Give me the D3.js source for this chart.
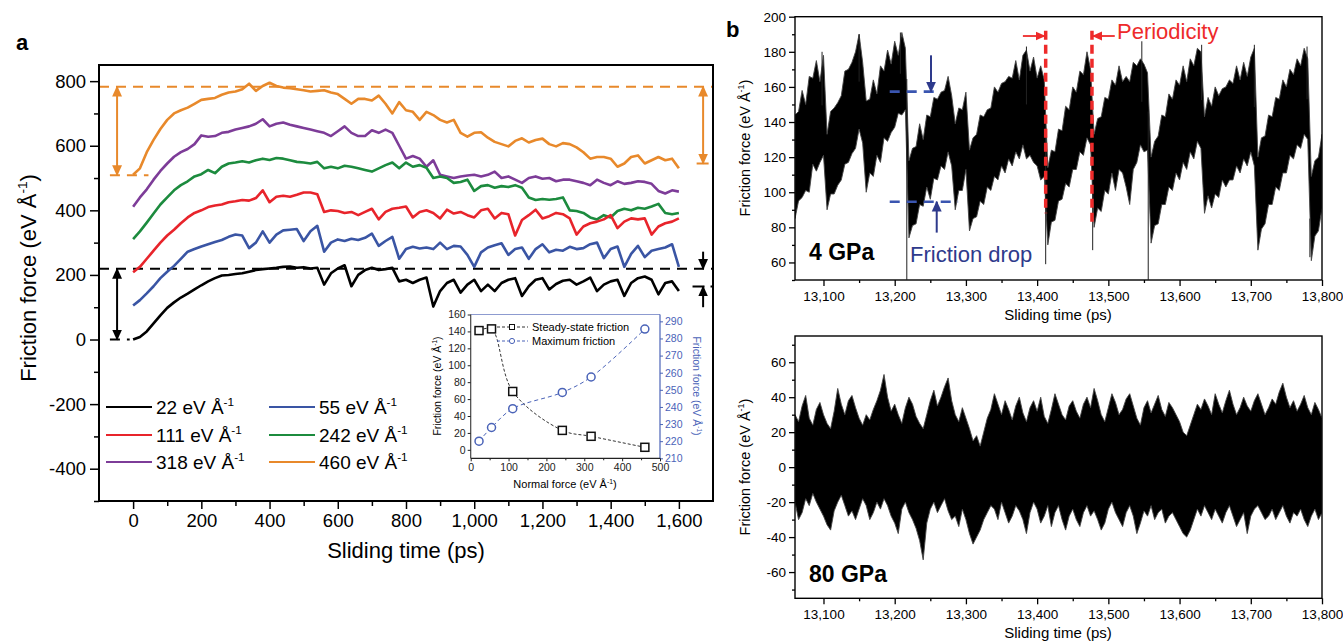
<!DOCTYPE html>
<html><head><meta charset="utf-8">
<script src="https://cdn.jsdelivr.net/npm/d3@7"></script>
<style>body{margin:0;background:#fff}</style>
</head><body>
<script>
// ---------------- DATA ----------------
// Panel a: friction force vs sliding time, sampled every 20 ps from 0 to 1600 ps
const tStepA = 20;
const loadLabels = ["22", "55", "111", "242", "318", "460"];
const f22 = [0,8,25,50,75, 98,115,130,142,155, 168,180,190,198,200, 203,205,210,215,218, 220,222,225,226,222, 224,220,222,170,205, 220,230,165,200,
  215,222,215,218,222, 180,185,175,185,192, 102,150,175,185,145, 170,185,150,170,150, 175,185,190,135,165, 185,190,155,172,182, 185,170,180,192,150, 170,180,185,135,175, 190,195,185,140,175, 180,150];
const f55 = [105,122,143,165,190, 210,228,250,272,280, 288,295,302,308,318, 325,322,283,300,335, 300,325,338,340,342, 305,335,352,272,300, 310,305,312,308,
  315,328,290,305,318, 250,280,287,282,285, 280,300,280,290,288, 262,225,270,285,292, 298,262,280,285,250, 280,295,270,278,275, 287,280,283,295,300, 252,280,288,225,265, 290,255,275,280,285, 295,225];
const f111 = [208,225,250,275,300, 322,340,360,378,392, 400,410,415,418,425, 428,432,430,438,462, 425,442,445,442,448, 455,455,450,395,400, 398,392,395,385,
  395,405,372,395,405, 408,412,378,395,400, 392,375,402,390,395, 385,378,400,405,375, 392,388,322,370,385, 402,375,382,392,388, 375,325,350,360,365, 372,385,345,365,375, 372,375,325,350,360, 365,375];
const f242 = [311,335,362,390,418, 440,462,478,490,505, 512,525,515,535,545, 548,552,548,555,560, 556,562,560,555,550, 548,545,550,530,535, 530,538,535,530,
  525,520,530,540,548, 530,548,535,540,532, 500,505,500,485,488, 495,460,475,478,470, 475,472,478,470,440, 432,435,433,435,440, 400,398,392,378,372, 385,378,398,405,400, 408,405,412,420,392, 388,392];
const f318 = [411,440,465,495,522, 545,566,580,590,605, 632,628,630,640,643, 650,655,660,668,682, 660,668,672,665,660, 655,650,645,640,630, 645,660,640,630,
  630,648,640,650,640, 600,560,568,560,535, 555,510,505,500,505, 508,510,505,510,520, 500,505,495,485,500, 505,498,500,490,495, 495,490,485,478,495, 485,478,490,482,485, 490,488,482,460,452, 462,458];
const f460 = [510,530,580,618,652, 680,700,710,718,730, 742,745,748,758,765, 768,775,792,770,785, 795,785,780,778,775, 772,768,770,772,765, 760,745,730,745,
  745,740,755,730,700, 735,710,705,680,705, 695,680,672,680,640, 628,640,642,625,612, 605,598,615,623,610, 618,622,605,598,608, 605,595,580,560,565, 565,560,535,545,565, 570,545,555,565,555, 560,530];
const seriesA = [f22, f55, f111, f242, f318, f460];
const colorsA = ["#000000", "#3A55A4", "#E8242B", "#1C8B3E", "#7D3C98", "#E8892B"];
const xTicksA = [0,200,400,600,800,1000,1200,1400,1600];
const xMinorA = [100,300,500,700,900,1100,1300,1500];
const yTicksA = [-400,-200,0,200,400,600,800];
const yMinorA = [-500,-300,-100,100,300,500,700];
// reference levels (max / steady) in panel a
const orangeMax = 783, orangeMinL = 509, orangeMinR = 545;
const blackMax = 219, blackMinL = 0, blackMinR = 164;

// Inset: normal force vs friction
const normalForce = [22, 55, 111, 242, 318, 460];
const steadyFriction = [141, 143, 69, 23, 16, 3];
const maxFriction = [220, 228, 239, 248.5, 257.5, 285.5];
const insetXTicks = [0,100,200,300,400,500];
const insetYLTicks = [0,20,40,60,80,100,120,140,160];
const insetYRTicks = [210,220,230,240,250,260,270,280,290];

// Panel b: envelope (upper / lower extremes) every 5 ps from 13060 to 13800 ps
const tStartB = 13060, tStepB = 5;
const hi4 = [144,146,158,150,166,165,175,163,178,133, 146,148,151,155,169,170,174,180,190,174,
  152,153,164,156,172,169,181,173,186,178, 191,182,118,125,126,139,130,144,143,154,
  153,157,158,166,155,139,148,147,157,124, 131,133,144,143,147,148,160,157,162,163,
  166,165,175,164,178,181,169,177,165,172, 164,114,124,123,136,135,149,147,160,157,
  169,167,180,170,133,142,143,154,153,164, 161,172,163,166,163,174,172,176,173,168,
  120,129,132,144,143,156,153,164,161,172, 163,176,172,182,180,143,154,149,160,155,
  159,160,164,162,172,164,174,166,177,182, 120,131,132,144,143,154,153,164,160,170,
  167,176,172,182,176,109,118,120,133];
const lo4 = [85,95,97,101,100,116,112,117,121,90, 99,99,104,107,116,117,122,125,136,128,
  100,111,109,121,117,131,129,134,137,145, 144,147,74,81,82,93,92,103,96,108,
  107,115,113,123,115,90,101,101,113,78, 85,86,95,93,103,101,109,107,115,111,
  119,115,123,119,127,119,121,117,115,107, 109,70,83,84,95,96,105,103,113,113,
  123,121,131,127,80,91,89,101,99,111, 101,113,111,103,93,113,117,127,123,124,
  71,81,82,93,93,103,101,111,107,117, 113,123,119,129,125,88,98,91,99,97,
  107,103,107,107,115,111,119,115,123,115, 67,79,82,93,93,103,101,111,111,121,
  119,127,125,133,130,61,75,78,91];
const spikes4 = [[13098,180],[13150,190],[13208,191],[13217,50],[13385,183],[13412,59],[13478,67],[13547,186],[13556,50],[13631,184],[13705,184],[13779,183],[13783,63]];
const hi80 = [30,26,35,41,28,24,33,37,30,25, 22,32,45,36,30,38,41,34,28,24,
  30,27,33,38,44,53,40,32,36,30, 25,34,40,36,29,25,22,30,38,44,
  35,40,46,51,38,30,26,34,28,22, 15,18,12,20,28,33,42,36,30,38,
  33,27,35,40,31,26,34,38,32,40, 29,25,33,42,36,30,27,35,38,32,
  28,36,40,34,45,38,30,26,34,42, 37,30,33,39,42,35,28,24,34,38,
  31,36,41,33,29,37,34,30,26,20, 18,24,30,36,33,39,35,30,42,36,
  31,38,44,36,30,34,40,35,32,38, 42,36,30,34,39,36,43,48,40,34,
  38,32,36,41,34,30,37,33,28];
const lo80 = [-20,-30,-26,-18,-22,-15,-20,-24,-28,-33, -36,-25,-20,-16,-22,-28,-25,-30,-24,-18,
  -22,-30,-26,-20,-24,-18,-22,-28,-32,-38, -24,-20,-26,-30,-35,-42,-53,-32,-24,-20,
  -26,-22,-18,-25,-30,-28,-34,-24,-30,-38, -44,-40,-36,-30,-26,-22,-24,-30,-20,-26,
  -32,-28,-22,-25,-30,-38,-26,-20,-24,-32, -28,-22,-34,-26,-22,-30,-36,-28,-24,-30,
  -34,-26,-22,-28,-25,-30,-36,-32,-24,-20, -26,-30,-34,-26,-22,-28,-38,-32,-25,-28,
  -22,-30,-26,-24,-32,-28,-26,-30,-34,-38, -40,-36,-30,-24,-28,-22,-26,-30,-24,-28,
  -32,-26,-22,-28,-34,-30,-26,-38,-28,-24, -22,-26,-30,-28,-24,-30,-26,-22,-28,-32,
  -26,-28,-24,-30,-34,-28,-24,-30,-26];
const xTicksB = [13100,13200,13300,13400,13500,13600,13700,13800];
const xMinorB = [13150,13250,13350,13450,13550,13650,13750];
const yTicksB1 = [60,80,100,120,140,160,180,200];
const yMinorB1 = [50,70,90,110,130,150,170,190];
const yTicksB2 = [-60,-40,-20,0,20,40,60];
const yMinorB2 = [-70,-50,-30,-10,10,30,50,70];
// annotation values in panel b
const periodT = [13412, 13477], periodTop = 192, periodBottom = [88, 82];
const dropHigh = 157.3, dropLow = 94.6;

// ---------------- DRAW ----------------
const FONT = '"Liberation Sans", Arial, Helvetica, sans-serif';
const fmt = d => String(d);
const svg = d3.select("body").append("svg").attr("width", 1343).attr("height", 642)
  .style("font-family", FONT).style("background", "#fff");
const defs = svg.append("defs");
function marker(id, color, size) {
  defs.append("marker").attr("id", id).attr("viewBox", "0 0 10 10")
    .attr("refX", 9).attr("refY", 5).attr("markerWidth", size).attr("markerHeight", size)
    .attr("markerUnits", "userSpaceOnUse").attr("orient", "auto-start-reverse")
    .append("path").attr("d", "M0,0.5 L10,5 L0,9.5 Z").attr("fill", color);
}
marker("mO", "#E8892B", 11); marker("mK", "#000", 11); marker("mR", "#EE2A2A", 10); marker("mN", "#2E3A8C", 11);

function rich(g, x, y, parts, size, opts = {}) {
  const t = g.append("text").attr("font-size", size).attr("fill", opts.fill || "#000")
    .attr("text-anchor", opts.anchor || "start").attr("font-weight", opts.weight || "normal");
  if (opts.rotate !== undefined) t.attr("transform", `translate(${x},${y}) rotate(${opts.rotate})`);
  else t.attr("x", x).attr("y", y);
  let shift = 0;
  parts.forEach(p => {
    const isSup = Array.isArray(p);
    const s = isSup ? p[0] : p;
    const ts = t.append("tspan").text(s);
    if (isSup) { ts.attr("font-size", size * 0.62).attr("dy", -size * 0.4); shift = size * 0.4; }
    else if (shift) { ts.attr("dy", shift); shift = 0; }
  });
  return t;
}
const unitParts = (pre) => [pre + " (eV Å", ["-1"], ")"];

function styleAxis(g, size, color = "#000", width = 1.5) {
  g.select(".domain").remove();
  g.selectAll(".tick line").attr("stroke", color).attr("stroke-width", width);
  g.selectAll(".tick text").attr("font-size", size).attr("fill", color).attr("font-family", FONT);
}

// ===== Panel a =====
const xA = d3.scaleLinear().domain([-100, 1700]).range([99, 713]);
const yA = d3.scaleLinear().domain([-500, 850]).range([501, 65]);
const gA = svg.append("g");
gA.append("text").attr("x", 16).attr("y", 50).attr("font-size", 22).attr("font-weight", "bold").text("a");

gA.append("g").attr("transform", "translate(99,0)")
  .call(d3.axisLeft(yA).tickValues(yTicksA).tickSize(9).tickPadding(4).tickFormat(fmt)).call(g => styleAxis(g, 18.5));
gA.append("g").attr("transform", "translate(99,0)")
  .call(d3.axisLeft(yA).tickValues(yMinorA).tickSize(5).tickFormat("")).call(g => styleAxis(g, 18.5));
gA.append("g").attr("transform", "translate(0,501)")
  .call(d3.axisBottom(xA).tickValues(xTicksA).tickSize(8).tickPadding(5).tickFormat(d3.format(","))).call(g => styleAxis(g, 18.5));
gA.append("g").attr("transform", "translate(0,501)")
  .call(d3.axisBottom(xA).tickValues(xMinorA).tickSize(5).tickFormat("")).call(g => styleAxis(g, 18.5));

// reference lines
const dashA = "10,7";
function hline(g, x1, x2, y, color, dash) {
  g.append("line").attr("x1", x1).attr("x2", x2).attr("y1", y).attr("y2", y)
    .attr("stroke", color).attr("stroke-width", 2).attr("stroke-dasharray", dash);
}
hline(gA, xA(-100), xA(1700), yA(orangeMax), "#E8892B", dashA);
hline(gA, xA(-100), xA(1700), yA(blackMax), "#000", dashA);
hline(gA, xA(-68), xA(45), yA(orangeMinL), "#E8892B", dashA);
hline(gA, xA(-68), xA(-10), yA(blackMinL), "#000", dashA);
hline(gA, xA(1652), xA(1700), yA(orangeMinR), "#E8892B", "12,6");
hline(gA, xA(1640), xA(1700), yA(blackMinR), "#000", "12,6");
// arrows
function arrow(g, x1, y1, x2, y2, color, m, both, w = 2) {
  const l = g.append("line").attr("x1", x1).attr("y1", y1).attr("x2", x2).attr("y2", y2)
    .attr("stroke", color).attr("stroke-width", w).attr("marker-end", `url(#${m})`);
  if (both) l.attr("marker-start", `url(#${m})`);
}
arrow(gA, xA(-47), yA(orangeMax), xA(-47), yA(orangeMinL), "#E8892B", "mO", true);
arrow(gA, xA(1671), yA(orangeMax), xA(1671), yA(orangeMinR), "#E8892B", "mO", true);
arrow(gA, xA(-47), yA(blackMax), xA(-47), yA(blackMinL), "#000", "mK", true);
arrow(gA, xA(1671), yA(272), xA(1671), yA(blackMax), "#000", "mK", false);
arrow(gA, xA(1671), yA(100), xA(1671), yA(blackMinR), "#000", "mK", false);

// curves
const lineA = d3.line().x((d, i) => xA(i * tStepA)).y(d => yA(d));
[5, 4, 3, 2, 1, 0].forEach(k => {
  gA.append("path").datum(seriesA[k]).attr("d", lineA).attr("fill", "none")
    .attr("stroke", colorsA[k]).attr("stroke-width", 2.6).attr("stroke-linejoin", "round");
});
gA.append("rect").attr("x", 99).attr("y", 65).attr("width", 614).attr("height", 436)
  .attr("fill", "none").attr("stroke", "#000").attr("stroke-width", 2);

// legend
const legPos = [[106, 407], [269, 407], [106, 435], [269, 435], [106, 462], [269, 462]];
loadLabels.forEach((lab, k) => {
  const [lx, ly] = legPos[k];
  gA.append("line").attr("x1", lx).attr("x2", lx + 46).attr("y1", ly).attr("y2", ly)
    .attr("stroke", colorsA[k]).attr("stroke-width", 2.2);
  rich(gA, lx + 50, ly + 7, [lab + " eV Å", ["-1"]], 19);
});
// titles
rich(gA, 406, 558, ["Sliding time (ps)"], 22, { anchor: "middle" });
rich(gA, 36, 278, unitParts("Friction force"), 22, { anchor: "middle", rotate: -90 });

// ===== Inset =====
const xI = d3.scaleLinear().domain([0, 500]).range([470.7, 660]);
const yIL = d3.scaleLinear().domain([-10, 160]).range([458.3, 314.5]);
const yIR = d3.scaleLinear().domain([210, 294]).range([458.3, 314.5]);
const gI = svg.append("g");
const blueI = "#4A63B8";
gI.append("line").attr("x1", 470.7).attr("x2", 660).attr("y1", 314.5).attr("y2", 314.5).attr("stroke", "#8D9BD0").attr("stroke-width", 1);
gI.append("line").attr("x1", 470.7).attr("x2", 470.7).attr("y1", 314.5).attr("y2", 458.3).attr("stroke", "#444").attr("stroke-width", 1.2);
gI.append("line").attr("x1", 660).attr("x2", 660).attr("y1", 314.5).attr("y2", 458.3).attr("stroke", blueI).attr("stroke-width", 1.2);
gI.append("line").attr("x1", 470.7).attr("x2", 660).attr("y1", 458.3).attr("y2", 458.3).attr("stroke", "#222").attr("stroke-width", 1.2);
gI.append("g").attr("transform", "translate(470.7,0)")
  .call(d3.axisLeft(yIL).tickValues(insetYLTicks).tickSize(3).tickPadding(2)).call(g => styleAxis(g, 10.5, "#222", 1));
gI.append("g").attr("transform", "translate(660,0)")
  .call(d3.axisRight(yIR).tickValues(insetYRTicks).tickSize(3).tickPadding(2)).call(g => styleAxis(g, 10.5, blueI, 1));
gI.append("g").attr("transform", "translate(0,458.3)")
  .call(d3.axisBottom(xI).tickValues(insetXTicks).tickSize(3).tickPadding(2)).call(g => styleAxis(g, 10.5, "#222", 1));
gI.append("g").attr("transform", "translate(0,458.3)")
  .call(d3.axisBottom(xI).tickValues([50,150,250,350,450]).tickSize(2).tickFormat("")).call(g => styleAxis(g, 10.5, "#222", 1));
const lineIS = d3.line().x((d, i) => xI(normalForce[i])).y(d => yIL(d)).curve(d3.curveCatmullRom);
const lineIM = d3.line().x((d, i) => xI(normalForce[i])).y(d => yIR(d)).curve(d3.curveCatmullRom);
gI.append("path").datum(steadyFriction).attr("d", lineIS).attr("fill", "none").attr("stroke", "#333").attr("stroke-width", 1).attr("stroke-dasharray", "3,2");
gI.append("path").datum(maxFriction).attr("d", lineIM).attr("fill", "none").attr("stroke", blueI).attr("stroke-width", 1).attr("stroke-dasharray", "4,3");
gI.selectAll(".sq").data(steadyFriction).join("rect").attr("x", (d, i) => xI(normalForce[i]) - 4).attr("y", d => yIL(d) - 4)
  .attr("width", 8).attr("height", 8).attr("fill", "#fff").attr("stroke", "#111").attr("stroke-width", 1.5);
gI.selectAll(".ci").data(maxFriction).join("circle").attr("cx", (d, i) => xI(normalForce[i])).attr("cy", d => yIR(d))
  .attr("r", 4).attr("fill", "#fff").attr("stroke", blueI).attr("stroke-width", 1.5);
// inset legend
gI.append("line").attr("x1", 497).attr("x2", 528).attr("y1", 327).attr("y2", 327).attr("stroke", "#333").attr("stroke-dasharray", "3,2");
gI.append("rect").attr("x", 509.5).attr("y", 324.5).attr("width", 5).attr("height", 5).attr("fill", "#fff").attr("stroke", "#111").attr("stroke-width", 1);
gI.append("line").attr("x1", 497).attr("x2", 528).attr("y1", 341).attr("y2", 341).attr("stroke", blueI).attr("stroke-dasharray", "3,2");
gI.append("circle").attr("cx", 512).attr("cy", 341).attr("r", 2.6).attr("fill", "#fff").attr("stroke", blueI).attr("stroke-width", 1);
rich(gI, 532, 331, ["Steady-state friction"], 11);
rich(gI, 532, 345, ["Maximum friction"], 11);
rich(gI, 565, 488, unitParts("Normal force"), 11, { anchor: "middle" });
rich(gI, 441, 386, unitParts("Friction force"), 10.5, { anchor: "middle", rotate: -90 });
rich(gI, 693, 386, unitParts("Friction force"), 10.5, { anchor: "middle", rotate: 90, fill: blueI });

// ===== Panel b =====
const xB = d3.scaleLinear().domain([13060, 13800]).range([795, 1322]);
const yB1 = d3.scaleLinear().domain([50, 200]).range([280, 16.7]);
const yB2 = d3.scaleLinear().domain([-75, 75]).range([598.3, 336]);
const gB = svg.append("g");
gB.append("text").attr("x", 726).attr("y", 37).attr("font-size", 22).attr("font-weight", "bold").text("b");
defs.append("clipPath").attr("id", "cb1").append("rect").attr("x", 795).attr("y", 16.7).attr("width", 527).attr("height", 263.3);
defs.append("clipPath").attr("id", "cb2").append("rect").attr("x", 795).attr("y", 336).attr("width", 527).attr("height", 262.3);

function panelB(yS, yTicks, yMinor, top, bottom, hi, lo, clip, yLabelY, xLabelY, tag, tagY) {
  gB.append("g").attr("transform", "translate(795,0)")
    .call(d3.axisLeft(yS).tickValues(yTicks).tickSize(6).tickPadding(3).tickFormat(fmt)).call(g => styleAxis(g, 13.5, "#000", 1.3));
  gB.append("g").attr("transform", "translate(795,0)")
    .call(d3.axisLeft(yS).tickValues(yMinor).tickSize(3).tickFormat("")).call(g => styleAxis(g, 13.5, "#000", 1.3));
  gB.append("g").attr("transform", `translate(0,${bottom})`)
    .call(d3.axisBottom(xB).tickValues(xTicksB).tickSize(6).tickPadding(5).tickFormat(d3.format(","))).call(g => styleAxis(g, 13.5, "#000", 1.3));
  gB.append("g").attr("transform", `translate(0,${bottom})`)
    .call(d3.axisBottom(xB).tickValues(xMinorB).tickSize(3).tickFormat("")).call(g => styleAxis(g, 13.5, "#000", 1.3));
  const area = d3.area().x((d, i) => xB(tStartB + i * tStepB)).y0((d, i) => yS(lo[i])).y1(d => yS(d));
  gB.append("path").datum(hi).attr("d", area).attr("clip-path", `url(#${clip})`)
    .attr("fill", "#000").attr("stroke", "#444").attr("stroke-width", 0.9).attr("stroke-linejoin", "miter");
  gB.append("rect").attr("x", 795).attr("y", top).attr("width", 527).attr("height", bottom - top)
    .attr("fill", "none").attr("stroke", "#000").attr("stroke-width", 1.4);
  rich(gB, 750, yLabelY, unitParts("Friction force"), 14.5, { anchor: "middle", rotate: -90 });
  rich(gB, 1058, xLabelY, ["Sliding time (ps)"], 15, { anchor: "middle" });
  rich(gB, 809, tagY, [tag], 23, { weight: "bold" });
}
panelB(yB1, yTicksB1, yMinorB1, 16.7, 280, hi4, lo4, "cb1", 148, 320, "4 GPa", 260);
panelB(yB2, yTicksB2, yMinorB2, 336, 598.3, hi80, lo80, "cb2", 467, 638, "80 GPa", 582);
// thin spikes in 4 GPa trace
spikes4.forEach(([t, v]) => {
  const i = Math.round((t - tStartB) / tStepB);
  gB.append("line").attr("x1", xB(t)).attr("x2", xB(t)).attr("y1", yB1(v)).attr("y2", yB1((hi4[i] + lo4[i]) / 2))
    .attr("stroke", "#222").attr("stroke-width", 1);
});

// annotations: friction drop
const navy = "#2E3A8C";
gB.append("line").attr("x1", xB(13193)).attr("x2", xB(13261)).attr("y1", yB1(dropHigh)).attr("y2", yB1(dropHigh))
  .attr("stroke", "#3A55B0").attr("stroke-width", 2.6).attr("stroke-dasharray", "10,7");
gB.append("line").attr("x1", xB(13193)).attr("x2", xB(13289)).attr("y1", yB1(dropLow)).attr("y2", yB1(dropLow))
  .attr("stroke", "#3A55B0").attr("stroke-width", 2.6).attr("stroke-dasharray", "10,7");
arrow(gB, xB(13251), yB1(178), xB(13251), yB1(dropHigh), navy, "mN", false, 2);
arrow(gB, xB(13259), yB1(77), xB(13259), yB1(dropLow), navy, "mN", false, 2);
rich(gB, 910, 262, ["Friction drop"], 22, { fill: navy });
// periodicity
periodT.forEach((t, k) => {
  gB.append("line").attr("x1", xB(t)).attr("x2", xB(t)).attr("y1", yB1(periodTop)).attr("y2", yB1(periodBottom[k]))
    .attr("stroke", "#EE2A2A").attr("stroke-width", 3.5).attr("stroke-dasharray", "9,5");
});
arrow(gB, xB(13380), yB1(189), xB(periodT[0]) - 1, yB1(189), "#EE2A2A", "mR", false, 1.8);
arrow(gB, xB(13509), yB1(189), xB(periodT[1]) + 1, yB1(189), "#EE2A2A", "mR", false, 1.8);
rich(gB, 1117, 39, ["Periodicity"], 22, { fill: "#EE2A2A" });
</script>
</body></html>
